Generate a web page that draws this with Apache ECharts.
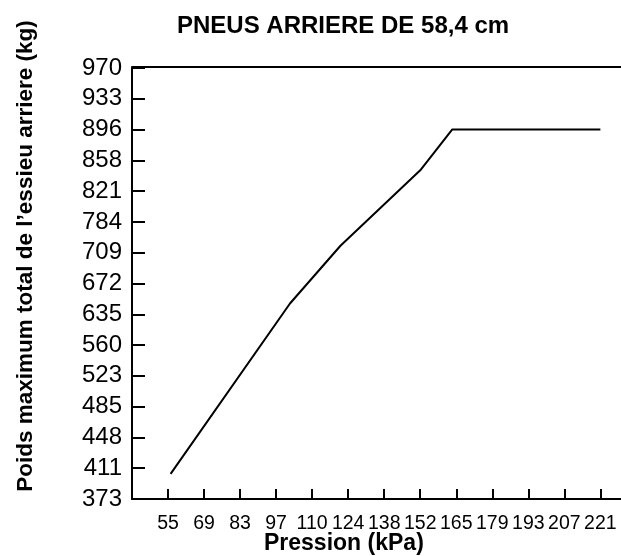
<!DOCTYPE html>
<html>
<head>
<meta charset="utf-8">
<script src="https://cdn.jsdelivr.net/npm/echarts@6/dist/echarts.min.js"></script>
<style>
  html, body { margin: 0; padding: 0; background: #fff; }
  #chart { width: 621px; height: 556px; }
</style>
</head>
<body>
<div id="chart"></div>
<script>
// Tick labels (evenly spaced on the chart)
const xTicks = [55, 69, 83, 97, 110, 124, 138, 152, 165, 179, 193, 207, 221];
const yTicks = [373, 411, 448, 485, 523, 560, 635, 672, 709, 784, 821, 858, 896, 933, 970];

// Curve: pressure (kPa) vs. max total rear-axle weight (kg)
const pressure = [56, 102, 121, 152, 163.5, 221];
const weight   = [404, 648, 726, 846, 896, 896];

// Map a value onto the evenly spaced tick scale (piecewise linear between labels)
function toIndex(v, ticks) {
  for (let i = 0; i < ticks.length - 1; i++) {
    if (v <= ticks[i + 1] || i === ticks.length - 2) {
      return i + (v - ticks[i]) / (ticks[i + 1] - ticks[i]);
    }
  }
}
function labelAt(v, ticks) {
  const r = Math.round(v);
  if (Math.abs(v - r) > 1e-6 || r < 0 || r >= ticks.length) return '';
  return String(ticks[r]);
}

const FONT = '"Liberation Sans", Arial, Helvetica, sans-serif';
const seriesData = pressure.map((p, i) => [toIndex(p, xTicks), toIndex(weight[i], yTicks)]);

const chart = echarts.init(document.getElementById('chart'), null, { renderer: 'canvas' });
chart.setOption({
  animation: false,
  backgroundColor: '#ffffff',
  textStyle: { fontFamily: FONT, color: '#000' },
  title: [{
    text: 'PNEUS ARRIERE DE 58,4 cm',
    left: 172,
    top: 9,
    textStyle: { fontFamily: FONT, fontSize: 24, fontWeight: 'bold', color: '#000' }
  }, {
    text: 'Pression (kPa)',
    left: 259,
    top: 527,
    textStyle: { fontFamily: FONT, fontSize: 23, fontWeight: 'bold', color: '#000' }
  }],
  grid: { left: 132, top: 68, width: 490, height: 431, containLabel: false, outerBoundsMode: 'none' },
  xAxis: [{
    type: 'value',
    min: -1,
    max: 12.6,
    interval: 1,
    axisLine: { show: true, onZero: false, lineStyle: { color: '#000', width: 2 } },
    axisTick: { show: true, inside: true, length: 10, lineStyle: { color: '#000', width: 2 } },
    axisLabel: {
      margin: 15,
      fontFamily: FONT, fontSize: 19.5, color: '#000',
      formatter: v => labelAt(v, xTicks)
    },
    splitLine: { show: false }
  }, {
    type: 'value',
    position: 'top',
    offset: 1,
    min: -1,
    max: 12.6,
    interval: 1,
    axisLine: { show: true, onZero: false, lineStyle: { color: '#000', width: 2 } },
    axisTick: { show: false },
    axisLabel: { show: false },
    splitLine: { show: false }
  }],
  yAxis: {
    type: 'value',
    min: 0,
    max: 14,
    interval: 1,
    name: 'Poids maximum total de l\u2019essieu arriere (kg)',
    nameLocation: 'middle',
    nameGap: 95,
    nameTextStyle: { fontFamily: FONT, fontSize: 22.5, fontWeight: 'bold', color: '#000', padding: [0, 0, 0, 55] },
    axisLine: { show: true, onZero: false, lineStyle: { color: '#000', width: 2 } },
    axisTick: { show: true, inside: true, length: 13, lineStyle: { color: '#000', width: 2 } },
    axisLabel: {
      margin: 10,
      fontFamily: FONT, fontSize: 24, color: '#000',
      formatter: v => labelAt(v, yTicks)
    },
    splitLine: { show: false }
  },
  series: [{
    type: 'line',
    xAxisIndex: 0,
    data: seriesData,
    showSymbol: false,
    symbol: 'none',
    clip: false,
    lineStyle: { color: '#000', width: 2 }
  }]
});
</script>
</body>
</html>
